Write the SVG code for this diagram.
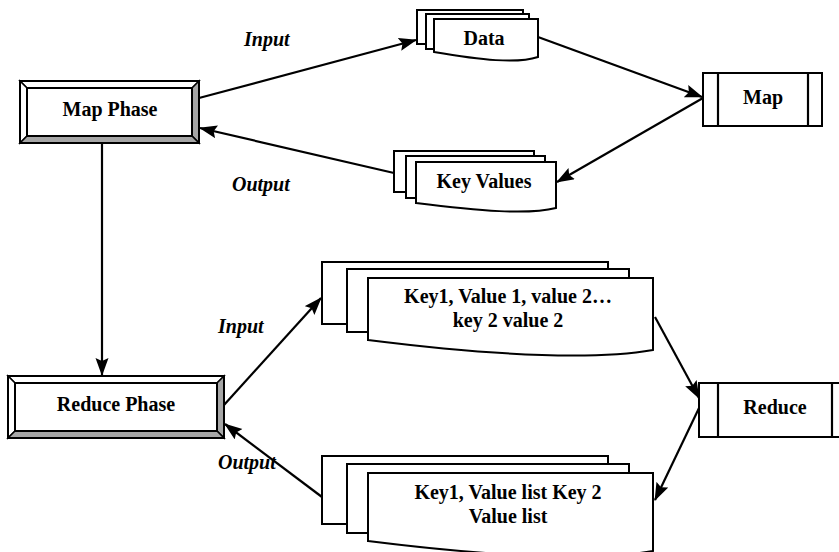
<svg xmlns="http://www.w3.org/2000/svg" width="839" height="552" viewBox="0 0 839 552">
  <defs>
    <marker id="arrow" markerUnits="userSpaceOnUse" markerWidth="18" markerHeight="14" refX="17" refY="6.5" orient="auto">
      <path d="M0,0 L18,6.5 L0,13 L3,6.5 z" fill="#000"/>
    </marker>
    <style>
      .shape { fill: #fff; stroke: #000; stroke-width: 2; stroke-linejoin: miter; }
      .light { fill: #fff; stroke: #000; stroke-width: 1.5; }
      .dark { fill: #a6a6a6; stroke: #000; stroke-width: 1.5; }
      .edge { fill: none; stroke: #000; stroke-width: 2.2; }
      .arrowed { marker-end: url(#arrow); }
      text { font-family: 'Liberation Serif', 'Times New Roman', Times, serif; font-weight: bold; font-size: 20px; fill: #000; }
      .label { text-anchor: middle; }
      .tag { font-style: italic; }
    </style>
  </defs>

  <rect width="839" height="552" fill="#fff"/>

  <!-- Connectors -->
  <g id="connectors">
    <line class="edge arrowed" x1="199" y1="98" x2="416" y2="40"/>
    <line class="edge arrowed" x1="538" y1="37" x2="702" y2="97"/>
    <line class="edge arrowed" x1="703" y1="98" x2="557" y2="182"/>
    <line class="edge arrowed" x1="394" y1="173" x2="200" y2="128"/>
    <line class="edge arrowed" x1="102" y1="143" x2="102" y2="375"/>
    <line class="edge arrowed" x1="224" y1="405" x2="321" y2="298"/>
    <line class="edge arrowed" x1="655" y1="317" x2="699" y2="398"/>
    <line class="edge arrowed" x1="700" y1="406" x2="655" y2="500"/>
    <line class="edge arrowed" x1="322" y1="497" x2="225" y2="424"/>
  </g>

  <!-- Edge labels -->
  <text class="tag" x="244" y="46" font-family="Liberation Serif, serif">Input</text>
  <text class="tag" x="232" y="191" font-family="Liberation Serif, serif">Output</text>
  <text class="tag" x="218" y="333" font-family="Liberation Serif, serif">Input</text>
  <text class="tag" x="218" y="469" font-family="Liberation Serif, serif">Output</text>

  <!-- Map Phase (bevelled box) -->
  <g id="map-phase">
    <polygon class="light" points="20,81 199,81 192,88 27,88"/>
    <polygon class="light" points="20,81 27,88 27,136 20,143"/>
    <polygon class="dark" points="199,81 199,143 192,136 192,88"/>
    <polygon class="dark" points="20,143 199,143 192,136 27,136"/>
    <rect x="20" y="81" width="179" height="62" fill="none" stroke="#000" stroke-width="2"/>
    <rect class="shape" x="27" y="88" width="165" height="48"/>
    <text class="label" x="110" y="116" font-family="Liberation Serif, serif">Map Phase</text>
  </g>

  <!-- Reduce Phase (bevelled box) -->
  <g id="reduce-phase">
    <polygon class="light" points="8,376 224,376 217,383 15,383"/>
    <polygon class="light" points="8,376 15,383 15,431 8,438"/>
    <polygon class="dark" points="224,376 224,438 217,431 217,383"/>
    <polygon class="dark" points="8,438 224,438 217,431 15,431"/>
    <rect x="8" y="376" width="216" height="62" fill="none" stroke="#000" stroke-width="2"/>
    <rect class="shape" x="15" y="383" width="202" height="48"/>
    <text class="label" x="116" y="411" font-family="Liberation Serif, serif">Reduce Phase</text>
  </g>

  <!-- Data (document stack) -->
  <g id="data">
    <rect class="shape" x="417" y="10" width="106" height="34"/>
    <rect class="shape" x="426" y="14" width="103" height="35"/>
    <path class="shape" d="M434,19 H538 V57 C517,64 481,60 434,52 Z"/>
    <text class="label" x="484" y="45" font-family="Liberation Serif, serif">Data</text>
  </g>

  <!-- Map (process box) -->
  <g id="map">
    <rect class="shape" x="703" y="73" width="119" height="53"/>
    <line class="edge" x1="718" y1="73" x2="718" y2="126"/>
    <line class="edge" x1="808" y1="73" x2="808" y2="126"/>
    <text class="label" x="763" y="104" font-family="Liberation Serif, serif">Map</text>
  </g>

  <!-- Key Values (document stack) -->
  <g id="key-values">
    <rect class="shape" x="394" y="151" width="140" height="41"/>
    <rect class="shape" x="406" y="156" width="139" height="42"/>
    <path class="shape" d="M416,162 H556 V208 C528,215 479,211 416,203 Z"/>
    <text class="label" x="484" y="188" font-family="Liberation Serif, serif">Key Values</text>
  </g>

  <!-- Reduce input (document stack) -->
  <g id="reduce-input">
    <rect class="shape" x="322" y="262" width="286" height="62"/>
    <rect class="shape" x="347" y="269" width="282" height="63"/>
    <path class="shape" d="M368,278 H653 V350 C596,360 496,356 368,340 Z"/>
    <text class="label" x="508" y="303" font-family="Liberation Serif, serif">Key1, Value 1, value 2…</text>
    <text class="label" x="508" y="327" font-family="Liberation Serif, serif">key 2 value 2</text>
  </g>

  <!-- Reduce (process box) -->
  <g id="reduce">
    <rect class="shape" x="699" y="383" width="160" height="54"/>
    <line class="edge" x1="718" y1="383" x2="718" y2="437"/>
    <line class="edge" x1="832" y1="383" x2="832" y2="437"/>
    <text class="label" x="775" y="414" font-family="Liberation Serif, serif">Reduce</text>
  </g>

  <!-- Reduce output (document stack) -->
  <g id="reduce-output">
    <rect class="shape" x="322" y="456" width="286" height="68"/>
    <rect class="shape" x="347" y="464" width="282" height="69"/>
    <path class="shape" d="M368,473 H653 V551 C596,561 496,557 368,541 Z"/>
    <text class="label" x="508" y="499" font-family="Liberation Serif, serif">Key1, Value list Key 2</text>
    <text class="label" x="508" y="523" font-family="Liberation Serif, serif">Value list</text>
  </g>
</svg>
